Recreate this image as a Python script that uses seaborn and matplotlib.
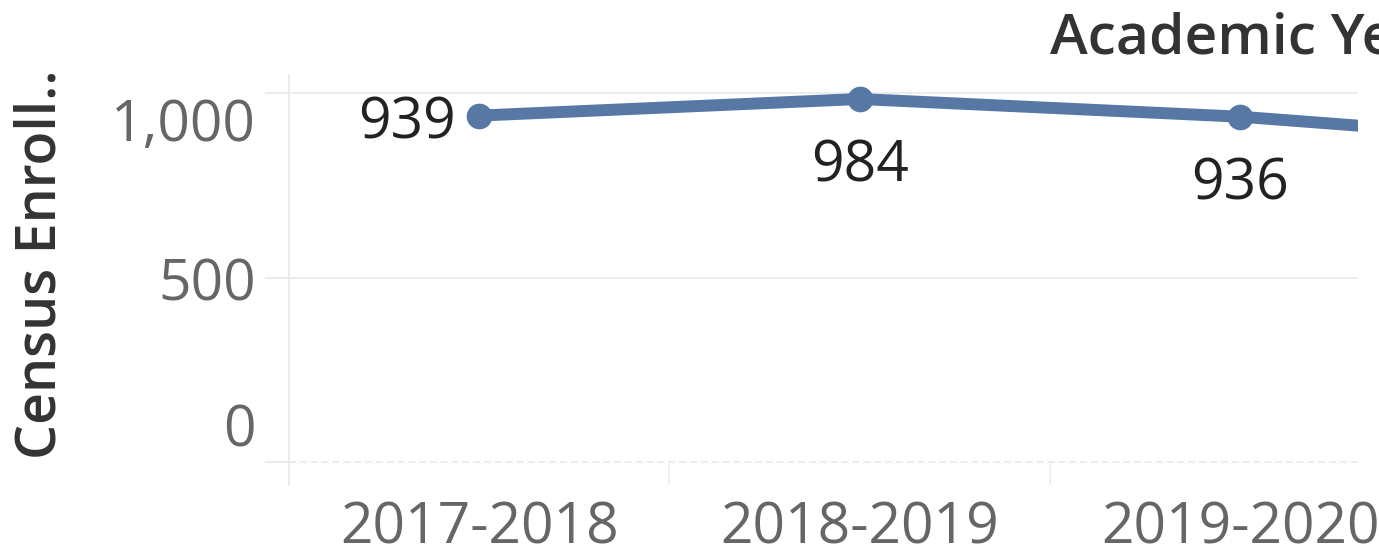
import matplotlib
matplotlib.use("Agg")
import matplotlib.pyplot as plt
import matplotlib.transforms as mtransforms
from matplotlib.ticker import FuncFormatter
import seaborn as sns
import pandas as pd

# ---- data ----
years = ["2017-2018", "2018-2019", "2019-2020", "2020-2021"]
enrollment = [939, 984, 936, 858]
y_ticks = [0, 500, 1000]
y_label = "Census Enroll.."
header = "Academic Year"

df = pd.DataFrame({"year": years, "enroll": enrollment})

sns.set_theme(style="white")
plt.rcParams["font.family"] = ["Open Sans", "DejaVu Sans"]

W, H, DPI = 1379, 554, 100
FS = 41
fig = plt.figure(figsize=(W / DPI, H / DPI), dpi=DPI)
ax = fig.add_axes([289 / W, (H - 485) / H, (1358 - 289) / W, (485 - 75) / H])

line_color = "#5778a4"
sns.lineplot(data=df, x="year", y="enroll", ax=ax, color=line_color,
             linewidth=8.6, marker="o", markersize=18.5,
             markeredgewidth=0, sort=False)

ax.set_xlim(-0.5, 2.31)
ax.set_ylim(-62, 1049)

# gridlines
ax.set_yticks(y_ticks)
ax.yaxis.set_major_formatter(FuncFormatter(lambda v, p: f"{int(v):,}"))
ax.grid(axis="y", color="#ececec", linewidth=1.3)
ax.grid(axis="x", visible=False)
ax.yaxis.get_gridlines()[0].set_linestyle((0, (4, 2)))
ax.set_axisbelow(True)

for s in ["top", "right", "bottom"]:
    ax.spines[s].set_visible(False)
ax.spines["left"].set_color("#e8e8e8")
ax.spines["left"].set_linewidth(1.2)

ax.tick_params(axis="y", length=17, width=1.2, color="#e8e8e8", pad=7,
               labelsize=FS, labelcolor="#666666", left=True)
ax.tick_params(axis="x", length=0, pad=11, labelsize=FS, labelcolor="#666666")

# category dividers below the zero line
ax.vlines([0.5, 1.5, 2.5], -62, 0, color="#ececec", linewidth=1.2)

# shift end y-labels inward like Tableau
shifts = {0: 27, 500: -1, 1000: -19}
for lab, v in zip(ax.get_yticklabels(), y_ticks):
    lab.set_transform(lab.get_transform() +
                      mtransforms.ScaledTranslation(0, shifts[v] / 72, fig.dpi_scale_trans))

ax.set_xlabel("")
ax.set_ylabel(y_label, fontsize=40, color="#333333", fontweight="semibold", labelpad=0)
ax.yaxis.set_label_coords(-0.205, 0.539)

# data labels
for i, (yr, v) in enumerate(zip(years, enrollment)):
    if i == 0:
        ax.annotate(f"{v}", (i, v), xytext=(-17, -6), textcoords="offset points",
                    ha="right", va="center", fontsize=FS, color="#222222")
    else:
        ax.annotate(f"{v}", (i, v), xytext=(0, -49), textcoords="offset points",
                    ha="center", va="center", fontsize=FS, color="#222222")

fig.text(1050 / W, 1 - 53 / H, header, ha="left", va="baseline", fontsize=FS,
         color="#333333", fontweight="semibold")

fig.savefig("out.png", dpi=DPI)
